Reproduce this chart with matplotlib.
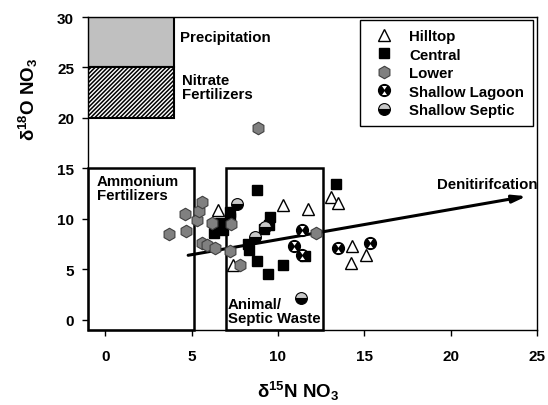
import numpy as np
import matplotlib.pyplot as plt
from matplotlib.path import Path
from matplotlib.patches import Rectangle

plt.rcParams['font.family'] = ['Liberation Sans', 'DejaVu Sans']
plt.rcParams['font.weight'] = 'bold'
plt.rcParams['axes.labelweight'] = 'bold'
plt.rcParams['mathtext.fontset'] = 'custom'
plt.rcParams['mathtext.rm'] = 'Liberation Sans:bold'
plt.rcParams['mathtext.default'] = 'rm'
plt.rcParams['hatch.linewidth'] = 1.1

# data (d15N, d18O)
hilltop_x = [6.55, 10.3, 11.75, 13.1, 13.45, 14.3, 14.25, 15.1, 7.4]
hilltop_y = [10.9, 11.4, 11.0, 12.2, 11.55, 7.3, 5.6, 6.4, 5.4]

central_x = [8.8, 13.35, 7.2, 7.2, 6.65, 6.3, 6.8, 9.55, 9.5, 9.2, 8.25, 8.3, 8.8, 9.45, 10.3, 11.55]
central_y = [12.9, 13.5, 10.7, 10.1, 9.6, 8.6, 8.9, 10.15, 9.4, 9.0, 7.5, 6.9, 5.85, 4.5, 5.45, 6.3]

lower_x = [3.7, 4.6, 4.7, 5.3, 5.45, 5.6, 5.6, 5.9, 6.35, 6.2, 7.3, 7.2, 7.8, 12.2, 8.85]
lower_y = [8.5, 10.5, 8.8, 9.9, 10.8, 11.7, 7.6, 7.4, 7.1, 9.6, 9.5, 6.8, 5.4, 8.6, 19.0]

lagoon_x = [11.4, 10.9, 11.4, 13.5, 15.35]
lagoon_y = [8.9, 7.3, 6.4, 7.15, 7.6]

septic_x = [7.6, 9.25, 8.65, 11.35]
septic_y = [11.5, 9.2, 8.25, 2.2]

# source boxes: (x0, y0, x1, y1)
precip_box = (-1, 25, 4, 30)
nitrate_box = (-1, 20, 4, 25)
ammonium_box = (-1, -1, 5.15, 15)
animal_box = (7.0, -1, 12.6, 15)

arrow_start = (4.8, 6.4)
arrow_end = (24.4, 12.25)

fig = plt.figure(figsize=(5.48, 4.06), dpi=100)
ax = fig.add_axes([88/548, 75/406, 449/548, 313/406])

ax.add_patch(Rectangle((precip_box[0], precip_box[1]), precip_box[2]-precip_box[0], precip_box[3]-precip_box[1],
                       facecolor='#c0c0c0', edgecolor='black', lw=1.5, zorder=1))
ax.add_patch(Rectangle((nitrate_box[0], nitrate_box[1]), nitrate_box[2]-nitrate_box[0], nitrate_box[3]-nitrate_box[1],
                       facecolor='white', edgecolor='black', hatch='////////', lw=1.5, zorder=1))
for b in [ammonium_box, animal_box]:
    ax.add_patch(Rectangle((b[0], b[1]), b[2]-b[0], b[3]-b[1], facecolor='none',
                           edgecolor='black', lw=1.8, zorder=1, clip_on=False))

fs = 10.8
ax.text(4.3, 28.0, 'Precipitation', fontsize=fs, va='center', ha='left')
ax.text(4.45, 23.1, 'Nitrate\nFertilizers', fontsize=fs, va='center', ha='left', linespacing=1.0)
ax.text(-0.5, 14.5, 'Ammonium\nFertilizers', fontsize=fs, va='top', ha='left', linespacing=1.0)
ax.text(7.1, -0.5, 'Animal/\nSeptic Waste', fontsize=fs, va='bottom', ha='left', linespacing=1.0, zorder=4)
ax.text(19.2, 13.5, 'Denitirifcation', fontsize=fs, va='center', ha='left')

ax.annotate('', xy=arrow_end, xytext=arrow_start,
            arrowprops=dict(arrowstyle='-|>,head_length=0.8,head_width=0.22', color='black', lw=2.2,
                            shrinkA=0, shrinkB=0), zorder=2)

hourglass = Path([(0, 0.15), (-0.5, 0.9), (0.5, 0.9), (0, 0.15),
                  (0, -0.15), (-0.5, -0.9), (0.5, -0.9), (0, -0.15)],
                 [Path.MOVETO, Path.LINETO, Path.LINETO, Path.CLOSEPOLY,
                  Path.MOVETO, Path.LINETO, Path.LINETO, Path.CLOSEPOLY])

h1, = ax.plot(hilltop_x, hilltop_y, ls='none', marker='^', ms=8.5, mfc='white', mec='black', mew=1.0, zorder=3)
h2, = ax.plot(central_x, central_y, ls='none', marker='s', ms=7.5, mfc='black', mec='black', zorder=3)
h3, = ax.plot(lower_x, lower_y, ls='none', marker='h', ms=9, mfc='#808080', mec='#404040', mew=0.8, zorder=3)
h4a, = ax.plot(lagoon_x, lagoon_y, ls='none', marker='o', ms=8.5, mfc='black', mec='black', zorder=3)
h4b, = ax.plot(lagoon_x, lagoon_y, ls='none', marker=hourglass, ms=6.5, mfc='white', mec='none', zorder=3)
h5, = ax.plot(septic_x, septic_y, ls='none', marker='o', ms=8.5, fillstyle='bottom', mfc='black',
              mfcalt='#c8c8c8', mec='black', mew=0.8, zorder=3)

leg = ax.legend([h1, h2, h3, (h4a, h4b), h5],
                ['Hilltop', 'Central', 'Lower', 'Shallow Lagoon', 'Shallow Septic'],
                loc='upper right', bbox_to_anchor=(0.991, 0.99), borderaxespad=0,
                fontsize=fs, fancybox=False, edgecolor='black', framealpha=1,
                labelspacing=0.3, handlelength=2.0, handletextpad=0.7, borderpad=0.6)
leg.get_frame().set_linewidth(1.0)

ax.set_xlim(-1, 25)
ax.set_ylim(-1, 30)
ax.set_xticks([0, 5, 10, 15, 20, 25])
ax.set_yticks([0, 5, 10, 15, 20, 25, 30])
ax.tick_params(direction='out', length=4, width=1, labelsize=11, pad=10)
ax.tick_params(axis='y', pad=6)
for s in ax.spines.values():
    s.set_linewidth(1.0)

ax.set_xlabel('δ$^{15}$N NO$_3$', fontsize=13.5)
ax.set_ylabel('δ$^{18}$O NO$_3$', fontsize=13.5)
ax.xaxis.set_label_coords(0.468, -0.155)
ax.yaxis.set_label_coords(-0.107, 0.74)

fig.savefig('out.png', dpi=100)
